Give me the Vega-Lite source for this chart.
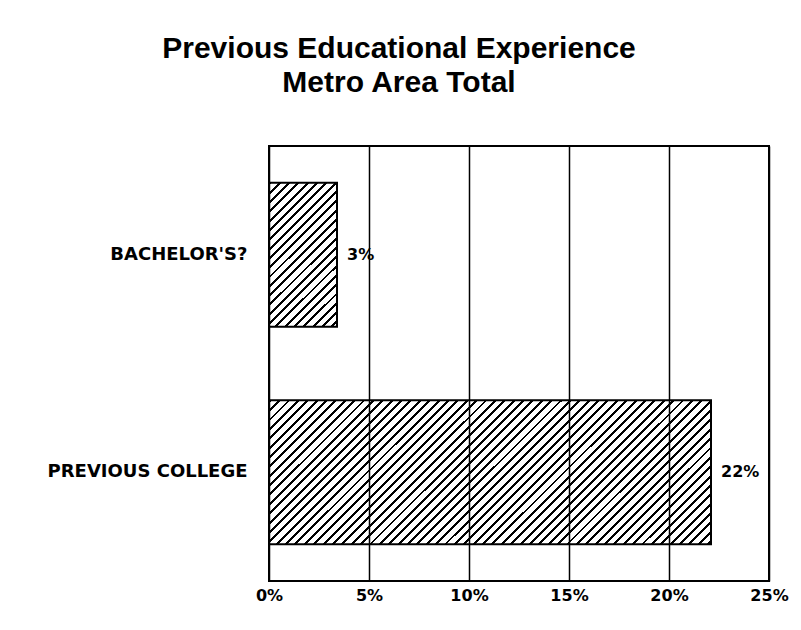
{
  "$schema": "https://vega.github.io/schema/vega-lite/v6.json",
  "width": 500,
  "height": 435,
  "autosize": {"type": "none"},
  "padding": {"left": 269, "top": 146, "right": 32, "bottom": 49},
  "background": "white",
  "title": {
    "text": ["Previous Educational Experience", "Metro Area Total"],
    "font": "Liberation Sans",
    "fontSize": 30,
    "fontWeight": "bold",
    "color": "black",
    "lineHeight": 34,
    "anchor": "middle",
    "frame": "group",
    "dx": -120,
    "offset": 48
  },
  "data": {
    "values": [
      {"category": "BACHELOR'S?", "share": 0.034},
      {"category": "PREVIOUS COLLEGE", "share": 0.221}
    ]
  },
  "encoding": {
    "y": {
      "field": "category",
      "type": "nominal",
      "sort": null,
      "title": null,
      "scale": {"paddingInner": 0.338, "paddingOuter": 0.169},
      "axis": {
        "ticks": false,
        "domain": false,
        "labelFont": "DejaVu Sans",
        "labelFontWeight": "bold",
        "labelFontSize": 18,
        "labelColor": "black",
        "labelPadding": 22,
        "labelLimit": 400
      }
    },
    "x": {
      "field": "share",
      "type": "quantitative",
      "title": null,
      "scale": {"domain": [0, 0.25], "nice": false, "zero": true},
      "axis": {
        "values": [0, 0.05, 0.1, 0.15, 0.2, 0.25],
        "format": ".0%",
        "grid": true,
        "gridColor": "black",
        "gridWidth": 1.5,
        "gridOpacity": 1,
        "ticks": false,
        "domain": false,
        "labelFont": "DejaVu Sans",
        "labelFontWeight": "bold",
        "labelFontSize": 16,
        "labelColor": "black",
        "labelPadding": 6,
        "labelFlush": false,
        "labelOverlap": false,
        "labelBound": false,
        "zindex": 1
      }
    }
  },
  "layer": [
    {
      "transform": [{"filter": "datum.category === \"BACHELOR'S?\""}],
      "mark": {
        "type": "bar",
        "stroke": "black",
        "strokeWidth": 2,
        "fill": {
          "gradient": "linear",
          "x1": 0, "y1": 0, "x2": 0.568, "y2": 1.204,
          "stops": [
            {"offset": 0, "color": "#000"}, {"offset": 0.014, "color": "#000"}, {"offset": 0.014, "color": "#fff"}, {"offset": 0.044, "color": "#fff"},
            {"offset": 0.044, "color": "#000"}, {"offset": 0.058, "color": "#000"}, {"offset": 0.058, "color": "#fff"}, {"offset": 0.088, "color": "#fff"},
            {"offset": 0.088, "color": "#000"}, {"offset": 0.102, "color": "#000"}, {"offset": 0.102, "color": "#fff"}, {"offset": 0.132, "color": "#fff"},
            {"offset": 0.132, "color": "#000"}, {"offset": 0.146, "color": "#000"}, {"offset": 0.146, "color": "#fff"}, {"offset": 0.176, "color": "#fff"},
            {"offset": 0.176, "color": "#000"}, {"offset": 0.19, "color": "#000"}, {"offset": 0.19, "color": "#fff"}, {"offset": 0.22, "color": "#fff"},
            {"offset": 0.22, "color": "#000"}, {"offset": 0.234, "color": "#000"}, {"offset": 0.234, "color": "#fff"}, {"offset": 0.264, "color": "#fff"},
            {"offset": 0.264, "color": "#000"}, {"offset": 0.278, "color": "#000"}, {"offset": 0.278, "color": "#fff"}, {"offset": 0.308, "color": "#fff"},
            {"offset": 0.308, "color": "#000"}, {"offset": 0.322, "color": "#000"}, {"offset": 0.322, "color": "#fff"}, {"offset": 0.352, "color": "#fff"},
            {"offset": 0.352, "color": "#000"}, {"offset": 0.366, "color": "#000"}, {"offset": 0.366, "color": "#fff"}, {"offset": 0.396, "color": "#fff"},
            {"offset": 0.396, "color": "#000"}, {"offset": 0.41, "color": "#000"}, {"offset": 0.41, "color": "#fff"}, {"offset": 0.44, "color": "#fff"},
            {"offset": 0.44, "color": "#000"}, {"offset": 0.454, "color": "#000"}, {"offset": 0.454, "color": "#fff"}, {"offset": 0.484, "color": "#fff"},
            {"offset": 0.484, "color": "#000"}, {"offset": 0.498, "color": "#000"}, {"offset": 0.498, "color": "#fff"}, {"offset": 0.528, "color": "#fff"},
            {"offset": 0.528, "color": "#000"}, {"offset": 0.542, "color": "#000"}, {"offset": 0.542, "color": "#fff"}, {"offset": 0.572, "color": "#fff"},
            {"offset": 0.572, "color": "#000"}, {"offset": 0.586, "color": "#000"}, {"offset": 0.586, "color": "#fff"}, {"offset": 0.616, "color": "#fff"},
            {"offset": 0.616, "color": "#000"}, {"offset": 0.63, "color": "#000"}, {"offset": 0.63, "color": "#fff"}, {"offset": 0.66, "color": "#fff"},
            {"offset": 0.66, "color": "#000"}, {"offset": 0.674, "color": "#000"}, {"offset": 0.674, "color": "#fff"}, {"offset": 0.704, "color": "#fff"},
            {"offset": 0.704, "color": "#000"}, {"offset": 0.718, "color": "#000"}, {"offset": 0.718, "color": "#fff"}, {"offset": 0.748, "color": "#fff"},
            {"offset": 0.748, "color": "#000"}, {"offset": 0.762, "color": "#000"}, {"offset": 0.762, "color": "#fff"}, {"offset": 0.792, "color": "#fff"},
            {"offset": 0.792, "color": "#000"}, {"offset": 0.806, "color": "#000"}, {"offset": 0.806, "color": "#fff"}, {"offset": 0.836, "color": "#fff"},
            {"offset": 0.836, "color": "#000"}, {"offset": 0.85, "color": "#000"}, {"offset": 0.85, "color": "#fff"}, {"offset": 0.88, "color": "#fff"},
            {"offset": 0.88, "color": "#000"}, {"offset": 0.894, "color": "#000"}, {"offset": 0.894, "color": "#fff"}, {"offset": 0.924, "color": "#fff"},
            {"offset": 0.924, "color": "#000"}, {"offset": 0.938, "color": "#000"}, {"offset": 0.938, "color": "#fff"}, {"offset": 0.968, "color": "#fff"},
            {"offset": 0.968, "color": "#000"}, {"offset": 0.982, "color": "#000"}, {"offset": 0.982, "color": "#fff"}, {"offset": 1, "color": "#fff"}
          ]
        }
      }
    },
    {
      "transform": [{"filter": "datum.category === 'PREVIOUS COLLEGE'"}],
      "mark": {
        "type": "bar",
        "stroke": "black",
        "strokeWidth": 2,
        "fill": {
          "gradient": "linear",
          "x1": 0, "y1": 0, "x2": 1.199, "y2": 0.391,
          "stops": [
            {"offset": 0, "color": "#000"}, {"offset": 0.005, "color": "#000"}, {"offset": 0.005, "color": "#fff"}, {"offset": 0.016, "color": "#fff"},
            {"offset": 0.016, "color": "#000"}, {"offset": 0.021, "color": "#000"}, {"offset": 0.021, "color": "#fff"}, {"offset": 0.032, "color": "#fff"},
            {"offset": 0.032, "color": "#000"}, {"offset": 0.037, "color": "#000"}, {"offset": 0.037, "color": "#fff"}, {"offset": 0.048, "color": "#fff"},
            {"offset": 0.048, "color": "#000"}, {"offset": 0.053, "color": "#000"}, {"offset": 0.053, "color": "#fff"}, {"offset": 0.064, "color": "#fff"},
            {"offset": 0.064, "color": "#000"}, {"offset": 0.069, "color": "#000"}, {"offset": 0.069, "color": "#fff"}, {"offset": 0.08, "color": "#fff"},
            {"offset": 0.08, "color": "#000"}, {"offset": 0.085, "color": "#000"}, {"offset": 0.085, "color": "#fff"}, {"offset": 0.096, "color": "#fff"},
            {"offset": 0.096, "color": "#000"}, {"offset": 0.101, "color": "#000"}, {"offset": 0.101, "color": "#fff"}, {"offset": 0.112, "color": "#fff"},
            {"offset": 0.112, "color": "#000"}, {"offset": 0.117, "color": "#000"}, {"offset": 0.117, "color": "#fff"}, {"offset": 0.128, "color": "#fff"},
            {"offset": 0.128, "color": "#000"}, {"offset": 0.133, "color": "#000"}, {"offset": 0.133, "color": "#fff"}, {"offset": 0.144, "color": "#fff"},
            {"offset": 0.144, "color": "#000"}, {"offset": 0.149, "color": "#000"}, {"offset": 0.149, "color": "#fff"}, {"offset": 0.16, "color": "#fff"},
            {"offset": 0.16, "color": "#000"}, {"offset": 0.165, "color": "#000"}, {"offset": 0.165, "color": "#fff"}, {"offset": 0.176, "color": "#fff"},
            {"offset": 0.176, "color": "#000"}, {"offset": 0.181, "color": "#000"}, {"offset": 0.181, "color": "#fff"}, {"offset": 0.192, "color": "#fff"},
            {"offset": 0.192, "color": "#000"}, {"offset": 0.197, "color": "#000"}, {"offset": 0.197, "color": "#fff"}, {"offset": 0.208, "color": "#fff"},
            {"offset": 0.208, "color": "#000"}, {"offset": 0.213, "color": "#000"}, {"offset": 0.213, "color": "#fff"}, {"offset": 0.224, "color": "#fff"},
            {"offset": 0.224, "color": "#000"}, {"offset": 0.229, "color": "#000"}, {"offset": 0.229, "color": "#fff"}, {"offset": 0.24, "color": "#fff"},
            {"offset": 0.24, "color": "#000"}, {"offset": 0.245, "color": "#000"}, {"offset": 0.245, "color": "#fff"}, {"offset": 0.256, "color": "#fff"},
            {"offset": 0.256, "color": "#000"}, {"offset": 0.261, "color": "#000"}, {"offset": 0.261, "color": "#fff"}, {"offset": 0.272, "color": "#fff"},
            {"offset": 0.272, "color": "#000"}, {"offset": 0.277, "color": "#000"}, {"offset": 0.277, "color": "#fff"}, {"offset": 0.288, "color": "#fff"},
            {"offset": 0.288, "color": "#000"}, {"offset": 0.293, "color": "#000"}, {"offset": 0.293, "color": "#fff"}, {"offset": 0.304, "color": "#fff"},
            {"offset": 0.304, "color": "#000"}, {"offset": 0.309, "color": "#000"}, {"offset": 0.309, "color": "#fff"}, {"offset": 0.32, "color": "#fff"},
            {"offset": 0.32, "color": "#000"}, {"offset": 0.325, "color": "#000"}, {"offset": 0.325, "color": "#fff"}, {"offset": 0.336, "color": "#fff"},
            {"offset": 0.336, "color": "#000"}, {"offset": 0.341, "color": "#000"}, {"offset": 0.341, "color": "#fff"}, {"offset": 0.352, "color": "#fff"},
            {"offset": 0.352, "color": "#000"}, {"offset": 0.357, "color": "#000"}, {"offset": 0.357, "color": "#fff"}, {"offset": 0.368, "color": "#fff"},
            {"offset": 0.368, "color": "#000"}, {"offset": 0.373, "color": "#000"}, {"offset": 0.373, "color": "#fff"}, {"offset": 0.384, "color": "#fff"},
            {"offset": 0.384, "color": "#000"}, {"offset": 0.389, "color": "#000"}, {"offset": 0.389, "color": "#fff"}, {"offset": 0.4, "color": "#fff"},
            {"offset": 0.4, "color": "#000"}, {"offset": 0.405, "color": "#000"}, {"offset": 0.405, "color": "#fff"}, {"offset": 0.416, "color": "#fff"},
            {"offset": 0.416, "color": "#000"}, {"offset": 0.421, "color": "#000"}, {"offset": 0.421, "color": "#fff"}, {"offset": 0.432, "color": "#fff"},
            {"offset": 0.432, "color": "#000"}, {"offset": 0.437, "color": "#000"}, {"offset": 0.437, "color": "#fff"}, {"offset": 0.448, "color": "#fff"},
            {"offset": 0.448, "color": "#000"}, {"offset": 0.453, "color": "#000"}, {"offset": 0.453, "color": "#fff"}, {"offset": 0.464, "color": "#fff"},
            {"offset": 0.464, "color": "#000"}, {"offset": 0.469, "color": "#000"}, {"offset": 0.469, "color": "#fff"}, {"offset": 0.48, "color": "#fff"},
            {"offset": 0.48, "color": "#000"}, {"offset": 0.485, "color": "#000"}, {"offset": 0.485, "color": "#fff"}, {"offset": 0.496, "color": "#fff"},
            {"offset": 0.496, "color": "#000"}, {"offset": 0.501, "color": "#000"}, {"offset": 0.501, "color": "#fff"}, {"offset": 0.512, "color": "#fff"},
            {"offset": 0.512, "color": "#000"}, {"offset": 0.517, "color": "#000"}, {"offset": 0.517, "color": "#fff"}, {"offset": 0.528, "color": "#fff"},
            {"offset": 0.528, "color": "#000"}, {"offset": 0.533, "color": "#000"}, {"offset": 0.533, "color": "#fff"}, {"offset": 0.544, "color": "#fff"},
            {"offset": 0.544, "color": "#000"}, {"offset": 0.549, "color": "#000"}, {"offset": 0.549, "color": "#fff"}, {"offset": 0.56, "color": "#fff"},
            {"offset": 0.56, "color": "#000"}, {"offset": 0.565, "color": "#000"}, {"offset": 0.565, "color": "#fff"}, {"offset": 0.576, "color": "#fff"},
            {"offset": 0.576, "color": "#000"}, {"offset": 0.581, "color": "#000"}, {"offset": 0.581, "color": "#fff"}, {"offset": 0.592, "color": "#fff"},
            {"offset": 0.592, "color": "#000"}, {"offset": 0.597, "color": "#000"}, {"offset": 0.597, "color": "#fff"}, {"offset": 0.608, "color": "#fff"},
            {"offset": 0.608, "color": "#000"}, {"offset": 0.613, "color": "#000"}, {"offset": 0.613, "color": "#fff"}, {"offset": 0.624, "color": "#fff"},
            {"offset": 0.624, "color": "#000"}, {"offset": 0.629, "color": "#000"}, {"offset": 0.629, "color": "#fff"}, {"offset": 0.64, "color": "#fff"},
            {"offset": 0.64, "color": "#000"}, {"offset": 0.645, "color": "#000"}, {"offset": 0.645, "color": "#fff"}, {"offset": 0.656, "color": "#fff"},
            {"offset": 0.656, "color": "#000"}, {"offset": 0.661, "color": "#000"}, {"offset": 0.661, "color": "#fff"}, {"offset": 0.672, "color": "#fff"},
            {"offset": 0.672, "color": "#000"}, {"offset": 0.677, "color": "#000"}, {"offset": 0.677, "color": "#fff"}, {"offset": 0.688, "color": "#fff"},
            {"offset": 0.688, "color": "#000"}, {"offset": 0.693, "color": "#000"}, {"offset": 0.693, "color": "#fff"}, {"offset": 0.704, "color": "#fff"},
            {"offset": 0.704, "color": "#000"}, {"offset": 0.709, "color": "#000"}, {"offset": 0.709, "color": "#fff"}, {"offset": 0.72, "color": "#fff"},
            {"offset": 0.72, "color": "#000"}, {"offset": 0.725, "color": "#000"}, {"offset": 0.725, "color": "#fff"}, {"offset": 0.736, "color": "#fff"},
            {"offset": 0.736, "color": "#000"}, {"offset": 0.741, "color": "#000"}, {"offset": 0.741, "color": "#fff"}, {"offset": 0.752, "color": "#fff"},
            {"offset": 0.752, "color": "#000"}, {"offset": 0.757, "color": "#000"}, {"offset": 0.757, "color": "#fff"}, {"offset": 0.768, "color": "#fff"},
            {"offset": 0.768, "color": "#000"}, {"offset": 0.773, "color": "#000"}, {"offset": 0.773, "color": "#fff"}, {"offset": 0.784, "color": "#fff"},
            {"offset": 0.784, "color": "#000"}, {"offset": 0.789, "color": "#000"}, {"offset": 0.789, "color": "#fff"}, {"offset": 0.8, "color": "#fff"},
            {"offset": 0.8, "color": "#000"}, {"offset": 0.805, "color": "#000"}, {"offset": 0.805, "color": "#fff"}, {"offset": 0.816, "color": "#fff"},
            {"offset": 0.816, "color": "#000"}, {"offset": 0.821, "color": "#000"}, {"offset": 0.821, "color": "#fff"}, {"offset": 0.832, "color": "#fff"},
            {"offset": 0.832, "color": "#000"}, {"offset": 0.837, "color": "#000"}, {"offset": 0.837, "color": "#fff"}, {"offset": 0.848, "color": "#fff"},
            {"offset": 0.848, "color": "#000"}, {"offset": 0.853, "color": "#000"}, {"offset": 0.853, "color": "#fff"}, {"offset": 0.864, "color": "#fff"},
            {"offset": 0.864, "color": "#000"}, {"offset": 0.869, "color": "#000"}, {"offset": 0.869, "color": "#fff"}, {"offset": 0.88, "color": "#fff"},
            {"offset": 0.88, "color": "#000"}, {"offset": 0.885, "color": "#000"}, {"offset": 0.885, "color": "#fff"}, {"offset": 0.896, "color": "#fff"},
            {"offset": 0.896, "color": "#000"}, {"offset": 0.901, "color": "#000"}, {"offset": 0.901, "color": "#fff"}, {"offset": 0.912, "color": "#fff"},
            {"offset": 0.912, "color": "#000"}, {"offset": 0.917, "color": "#000"}, {"offset": 0.917, "color": "#fff"}, {"offset": 0.928, "color": "#fff"},
            {"offset": 0.928, "color": "#000"}, {"offset": 0.933, "color": "#000"}, {"offset": 0.933, "color": "#fff"}, {"offset": 0.944, "color": "#fff"},
            {"offset": 0.944, "color": "#000"}, {"offset": 0.949, "color": "#000"}, {"offset": 0.949, "color": "#fff"}, {"offset": 0.96, "color": "#fff"},
            {"offset": 0.96, "color": "#000"}, {"offset": 0.965, "color": "#000"}, {"offset": 0.965, "color": "#fff"}, {"offset": 0.976, "color": "#fff"},
            {"offset": 0.976, "color": "#000"}, {"offset": 0.981, "color": "#000"}, {"offset": 0.981, "color": "#fff"}, {"offset": 0.992, "color": "#fff"},
            {"offset": 0.992, "color": "#000"}, {"offset": 0.997, "color": "#000"}, {"offset": 0.997, "color": "#fff"}, {"offset": 1, "color": "#fff"}
          ]
        }
      }
    },
    {
      "mark": {
        "type": "text",
        "align": "left",
        "baseline": "middle",
        "dx": 10,
        "font": "DejaVu Sans",
        "fontWeight": "bold",
        "fontSize": 16,
        "color": "black"
      },
      "encoding": {
        "text": {"field": "share", "type": "quantitative", "format": ".0%"}
      }
    }
  ],
  "config": {
    "view": {"stroke": "black", "strokeWidth": 2, "fill": "white"}
  }
}
